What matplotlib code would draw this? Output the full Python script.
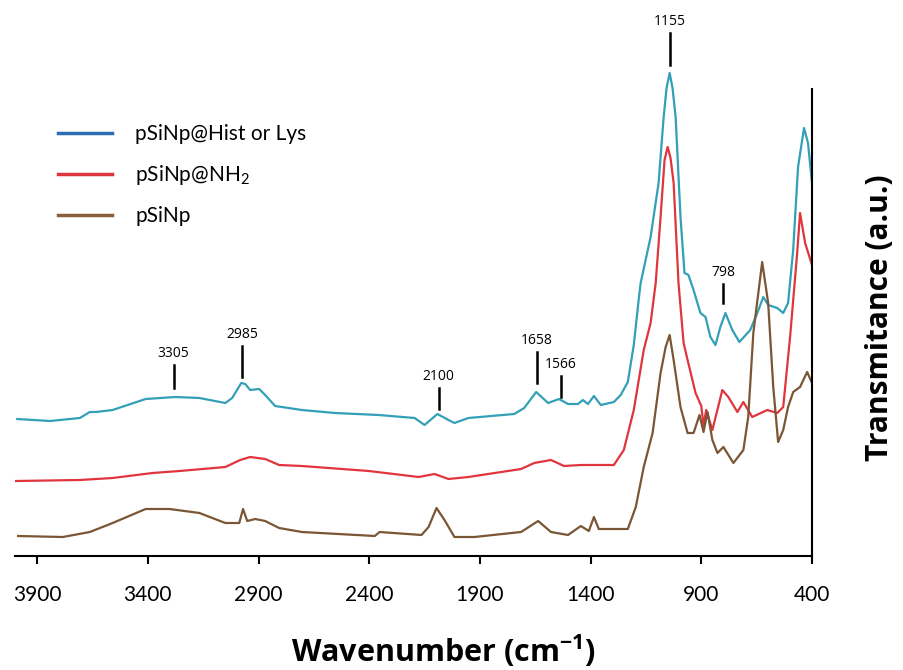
import matplotlib
matplotlib.use("Agg")
import matplotlib.pyplot as plt
from matplotlib.lines import Line2D

plt.rcParams['font.family'] = ['Lato', 'DejaVu Sans']
plt.rcParams['mathtext.fontset'] = 'custom'
plt.rcParams['mathtext.rm'] = 'Lato'
plt.rcParams['mathtext.bf'] = 'Open Sans:bold'

# pSiNp@Hist or Lys (wavenumber, transmittance a.u.)
hist_wn = [3990, 3842, 3707, 3662, 3635, 3559, 3410, 3275, 3167, 3050, 3019, 2978, 2960, 2938,
           2897, 2870, 2825, 2704, 2555, 2357, 2195, 2150, 2092, 2042, 2015, 1952, 1745, 1700,
           1646, 1592, 1543, 1502, 1457, 1435, 1412, 1385, 1354, 1295, 1264, 1232, 1205, 1183,
           1174, 1129, 1093, 1070, 1057, 1043, 1030, 1016, 994, 976, 958, 935, 904, 881, 859,
           836, 814, 791, 760, 728, 679, 647, 620, 598, 557, 530, 508, 485, 463, 436, 418, 400]
hist_t = [1.37, 1.35, 1.38, 1.44, 1.44, 1.46, 1.57, 1.59, 1.58, 1.53, 1.58, 1.73, 1.72, 1.66,
          1.67, 1.61, 1.50, 1.46, 1.43, 1.41, 1.38, 1.31, 1.42, 1.36, 1.33, 1.38, 1.42, 1.48,
          1.64, 1.53, 1.57, 1.52, 1.52, 1.56, 1.52, 1.60, 1.51, 1.54, 1.61, 1.74, 2.11, 2.56,
          2.73, 3.19, 3.73, 4.39, 4.68, 4.83, 4.68, 4.39, 3.39, 2.83, 2.81, 2.66, 2.43, 2.39, 2.19,
          2.11, 2.29, 2.43, 2.26, 2.14, 2.26, 2.43, 2.59, 2.51, 2.48, 2.43, 2.53, 3.06, 3.89, 4.28,
          4.13, 3.73]

# pSiNp@NH2
nh2_wn = [3995, 3707, 3559, 3379, 3257, 3050, 2983, 2938, 2870, 2807, 2704, 2402, 2177, 2105,
          2042, 1952, 1714, 1655, 1579, 1520, 1444, 1295, 1250, 1205, 1160, 1129, 1106, 1084,
          1066, 1052, 1039, 1025, 1003, 980, 962, 926, 900, 890, 878, 850, 805, 778, 737, 710,
          670, 602, 557, 530, 499, 467, 454, 431, 400]
nh2_t = [0.75, 0.76, 0.78, 0.83, 0.85, 0.89, 0.96, 0.99, 0.97, 0.91, 0.90, 0.85, 0.79, 0.82,
         0.77, 0.79, 0.87, 0.93, 0.96, 0.90, 0.91, 0.91, 1.06, 1.46, 2.06, 2.33, 2.73, 3.39,
         3.96, 4.09, 3.98, 3.73, 2.73, 2.13, 1.96, 1.63, 1.50, 1.30, 1.46, 1.26, 1.66, 1.59, 1.44,
         1.54, 1.39, 1.46, 1.43, 1.49, 2.19, 3.03, 3.43, 3.13, 2.91]

# pSiNp
psi_wn = [3986, 3784, 3662, 3559, 3410, 3302, 3167, 3050, 2987, 2970, 2951, 2915, 2870, 2807,
          2704, 2375, 2353, 2164, 2132, 2096, 2060, 2015, 1925, 1714, 1637, 1579, 1502, 1444,
          1408, 1385, 1363, 1232, 1196, 1160, 1120, 1084, 1061, 1043, 1025, 994, 962, 935, 908,
          890, 872, 850, 827, 800, 755, 710, 688, 665, 625, 598, 575, 553, 530, 508, 485, 454,
          422, 400]
psi_t = [0.20, 0.19, 0.24, 0.33, 0.47, 0.47, 0.43, 0.33, 0.33, 0.47, 0.35, 0.37, 0.35, 0.28,
         0.24, 0.20, 0.24, 0.21, 0.29, 0.48, 0.36, 0.19, 0.19, 0.24, 0.35, 0.24, 0.21, 0.30,
         0.25, 0.39, 0.27, 0.27, 0.49, 0.89, 1.23, 1.83, 2.09, 2.21, 1.96, 1.49, 1.23, 1.23, 1.41,
         1.24, 1.44, 1.16, 1.03, 1.09, 0.93, 1.06, 1.39, 2.23, 2.94, 2.53, 1.69, 1.14, 1.26, 1.49,
         1.64, 1.69, 1.84, 1.73]

# peak labels: text, position, bar bottom, bar top
peak_text = ['3305', '2985', '2100', '1658', '1566', '1155', '798']
peak_wn = [3284, 2974, 2087, 1642, 1534, 1043, 800]
peak_lo = [1.68, 1.79, 1.47, 1.73, 1.59, 4.91, 2.53]
peak_hi = [1.91, 2.10, 1.68, 2.04, 1.80, 5.23, 2.72]

ticks = [3900, 3400, 2900, 2400, 1900, 1400, 900, 400]

fig = plt.figure(figsize=(9.04, 6.70), dpi=100)
ax = fig.add_axes([15 / 904, 114 / 670, 797 / 904, 546 / 670])

ax.plot(hist_wn, hist_t, color='#33a0b8', lw=1.6)
ax.plot(nh2_wn, nh2_t, color='#e0353d', lw=1.6)
ax.plot(psi_wn, psi_t, color='#7a5634', lw=1.6)

for txt, wn, lo, hi in zip(peak_text, peak_wn, peak_lo, peak_hi):
    ax.plot([wn, wn], [lo, hi], color='black', lw=1.8)
    ax.text(wn, hi + 0.04, txt, ha='center', va='bottom', fontsize=10, family='Open Sans')

ax.set_xlim(4000, 400)
ax.set_ylim(0, 5.46)
ax.set_xticks(ticks)
ax.set_yticks([])
ax.tick_params(axis='x', direction='out', length=6, width=1.5, pad=15, labelsize=15)
for s in ['top', 'left']:
    ax.spines[s].set_visible(False)
ax.spines['bottom'].set_linewidth(1.5)
ax.spines['right'].set_linewidth(1.5)
ax.spines['right'].set_bounds(0, 4.67)

handles = [Line2D([], [], color='#2e6db4', lw=2.5),
           Line2D([], [], color='#d9363e', lw=2.5),
           Line2D([], [], color='#8b5e3c', lw=2.5)]
labels = ['pSiNp@Hist or Lys', r'pSiNp@NH$_\mathregular{2}$', 'pSiNp']
fig.legend(handles, labels, loc='upper left', bbox_to_anchor=(58 / 904, 1 - 124 / 670),
           frameon=False, fontsize=15, handlelength=2.6, handletextpad=1.1,
           labelspacing=0.92, borderpad=0, borderaxespad=0)

fig.text(444 / 904, 1 - 651 / 670, r'Wavenumber (cm$^{\mathbf{-1}}$)', ha='center', va='center',
         fontsize=22, fontweight='bold', family='Open Sans')
fig.text(880 / 904, 1 - 318 / 670, 'Transmitance (a.u.)', ha='center', va='center',
         rotation=90, fontsize=21.5, fontweight='bold', family='Open Sans')

fig.savefig('out.png', dpi=100)
